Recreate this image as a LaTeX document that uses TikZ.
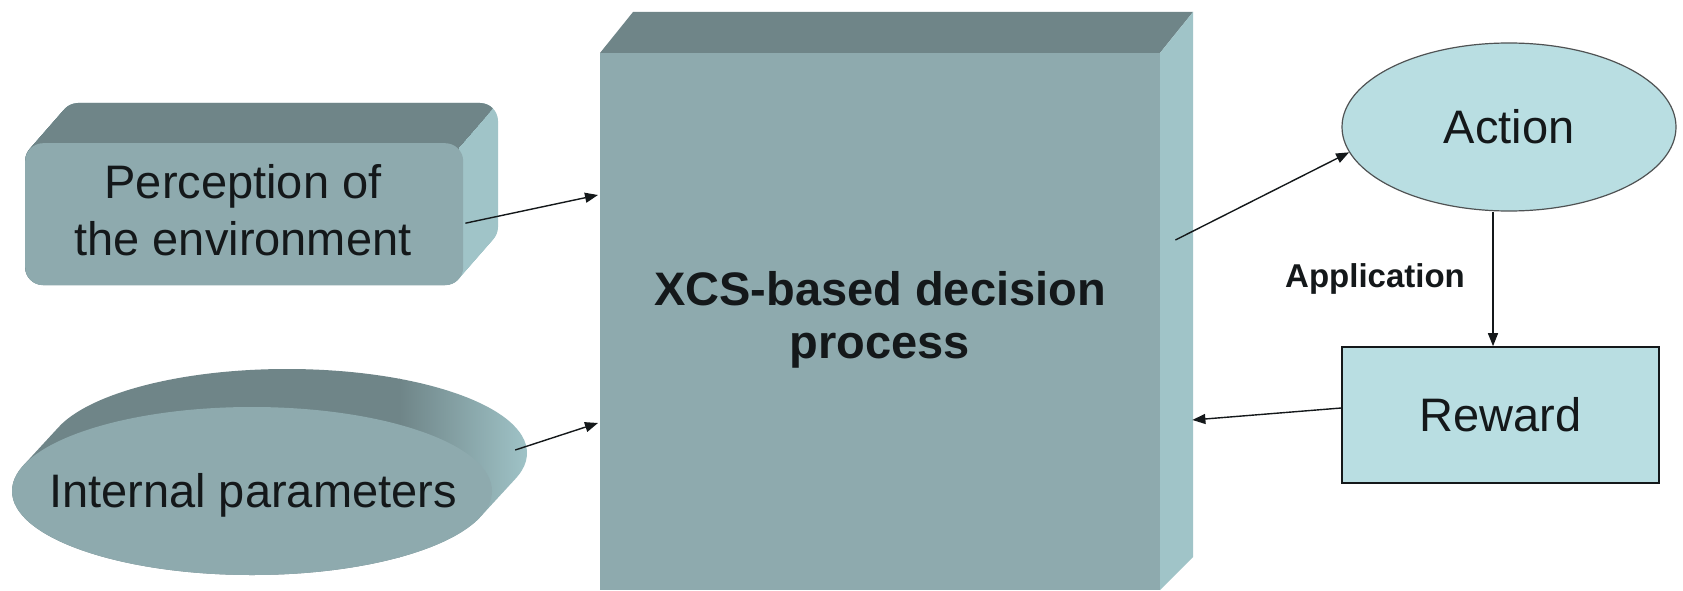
\documentclass[tikz,border=0pt]{standalone}
\usepackage{fontspec}
\setmainfont{Liberation Sans}
\usetikzlibrary{arrows.meta,shapes.geometric}
\definecolor{frontc}{RGB}{142,170,174}
\definecolor{topc}{RGB}{111,133,136}
\definecolor{sidec}{RGB}{160,196,200}
\definecolor{lightc}{RGB}{185,222,226}
\definecolor{inkc}{RGB}{20,24,26}
\begin{document}
\begin{tikzpicture}[x=1pt,y=-1pt,
  conn/.style={draw=inkc, line width=1.4pt, -{Triangle[length=13pt,width=10pt]}},
  lbl/.style={text=inkc, font=\fontsize{47}{57}\selectfont, inner sep=0pt},
  blbl/.style={text=inkc, font=\fontsize{47}{53}\selectfont\bfseries, inner sep=0pt},
  slbl/.style={text=inkc, font=\fontsize{33}{38}\selectfont\bfseries, inner sep=0pt},
  facebox/.style={fill=frontc, inner sep=0pt, anchor=north west},
  lightbox/.style={fill=lightc, inner sep=0pt},
]
\useasboundingbox[fill=white] (0,0) rectangle (1683,591);

% ---------- big block ----------
\fill[topc] (600,53) -- (633,12) -- (1193,12) -- (1160,53) -- cycle;
\fill[sidec] (1160,53) -- (1193,12) -- (1193,557) -- (1160,590) -- cycle;
\node[facebox, minimum width=560pt, minimum height=537pt] (xcs) at (600,53) {};
\node[blbl, align=center, anchor=base] (xcst) at (880,358) {XCS-based decision\\process};

% ---------- perception box ----------
\foreach \i in {0,...,40}
  \fill[sidec, rounded corners=18pt] (25+\i*0.875,143-\i) rectangle +(438,142);
\begin{scope}
  \clip (-100,700) -- (458,700) -- (458,148) -- (563,28) -- (-100,28) -- cycle;
  \foreach \i in {0,...,40}
    \fill[topc, rounded corners=18pt] (25+\i*0.875,143-\i) rectangle +(438,142);
\end{scope}
\node[facebox, rounded corners=18pt, minimum width=438pt, minimum height=142pt] (perc) at (25,143) {};
\node[lbl, align=center, anchor=base] (perct) at (243,255) {Perception of\\the environment};

% ---------- internal parameters ----------
\begin{scope}
  \clip foreach \i in {0,...,40} {(252+\i*0.875,491-\i*0.95) ellipse [x radius=240pt, y radius=84pt]};
  \fill[topc] (0,350) rectangle (400,600);
  \shade[left color=topc, right color=sidec] (399,350) rectangle (530,600);
\end{scope}
\node[ellipse, fill=frontc, inner sep=0pt, minimum width=480pt, minimum height=168pt] (intp) at (252,491) {};
\node[lbl, anchor=base] (intpt) at (253,507) {Internal parameters};

% ---------- action / reward ----------
\node[ellipse, lightbox, draw=inkc!75, line width=1.2pt, minimum width=334pt, minimum height=168pt, lbl] (action) at (1509,127) {Action};
\node[rectangle, lightbox, draw=inkc, line width=1.6pt, minimum width=317pt, minimum height=136pt, lbl] (reward) at (1500.5,415) {Reward};
\node[slbl, anchor=base] (app) at (1375,287) {Application};

% ---------- connectors ----------
\draw[conn] ([shift={(2,9)}]perc.east) -- ([shift={(-2,142)}]xcs.north west);
\draw[conn] ([shift={(23,-41)}]intp.east) -- ([shift={(-2,370)}]xcs.north west);
\draw[conn] ([shift={(15,187)}]xcs.north east) -- (action.189);
\draw[conn] ([xshift=-16pt]action.south) -- ([xshift=-16pt]action.south |- reward.north);
\draw[conn] ([yshift=7pt]reward.west) -- ([shift={(32,367)}]xcs.north east);
\end{tikzpicture}
\end{document}
